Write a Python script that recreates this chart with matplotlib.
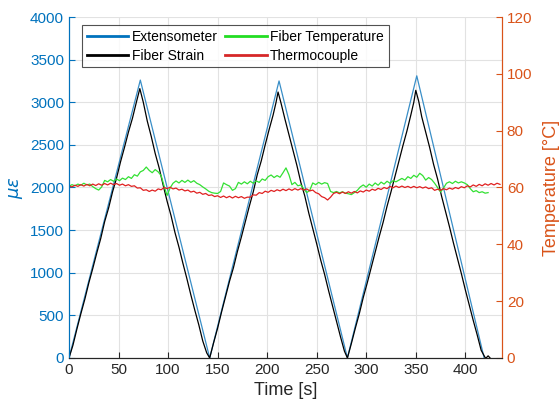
import numpy as np
import matplotlib
matplotlib.use('Agg')
import matplotlib.pyplot as plt
from matplotlib.lines import Line2D

plt.rcParams['font.family'] = ['Liberation Sans', 'DejaVu Sans']

### data
# extensometer (vertices of the triangular load cycles)
ext_t = [0, 72, 142, 212, 281, 351, 419]
ext_v = [0, 3260, 0, 3250, 0, 3310, 0]

# fiber strain
fs_t = [0, 4, 8, 12, 16, 20, 24, 28, 32, 36, 40, 44, 48, 52, 56, 60, 64, 68, 71.5,
        75, 79, 83, 87, 91, 95, 99, 103, 107, 111, 115, 119, 123, 127, 131, 135, 139, 142,
        146, 150, 154, 158, 162, 166, 170, 174, 178, 182, 186, 190, 194, 198, 202, 206, 209, 211,
        214, 218, 222, 226, 230, 234, 238, 242, 246, 250, 254, 258, 262, 266, 270, 274, 278, 281,
        285, 289, 293, 297, 301, 305, 309, 313, 317, 321, 325, 329, 333, 337, 341, 345, 348, 350,
        353, 356, 360, 364, 368, 372, 376, 380, 384, 388, 392, 396, 400, 404, 408, 412, 416, 420,
        421, 423, 425]
fs_v = [0, 150, 340, 520, 690, 880, 1050, 1230, 1400, 1600, 1760, 1950, 2110, 2300, 2470, 2650, 2810, 3000, 3160,
        3000, 2780, 2600, 2400, 2230, 2030, 1840, 1670, 1470, 1300, 1110, 930, 740, 560, 390, 200, 60, 0,
        180, 350, 540, 720, 900, 1060, 1250, 1420, 1600, 1780, 1950, 2150, 2310, 2500, 2680, 2850, 3000, 3120,
        2990, 2800, 2620, 2440, 2260, 2060, 1900, 1700, 1520, 1340, 1150, 980, 790, 610, 430, 250, 80, 0,
        170, 350, 520, 710, 880, 1060, 1240, 1420, 1590, 1780, 1950, 2130, 2310, 2490, 2660, 2850, 3000, 3140,
        3010, 2830, 2650, 2470, 2270, 2100, 1900, 1720, 1540, 1350, 1170, 990, 800, 620, 440, 270, 90, 5,
        0, 25, 0]

# fiber temperature, sampled every 3 s
ft_v = [60.4, 61.0, 60.6, 61.2, 60.8, 61.5, 60.9, 61.2, 60.3, 59.6, 59.1, 60.2, 62.5, 62.0, 62.8, 62.2,
        63.0, 62.4, 63.3, 62.8, 63.8, 63.2, 64.5, 64.0, 65.5, 66.0, 67.2, 66.0, 65.2, 66.3, 65.5, 64.2,
        60.5, 57.2, 59.8, 61.5, 62.3, 61.6, 62.5, 61.8, 62.6, 61.8, 62.4, 61.5, 61.0, 60.2, 59.5, 58.7,
        58.2, 58.0, 57.9, 58.6, 61.6, 61.0, 60.5, 59.0, 59.6, 61.8, 61.2, 62.0, 61.3, 62.2, 61.5, 62.3,
        61.8, 63.0, 62.5, 63.8, 64.4, 63.5, 64.2, 63.6, 65.2, 66.9, 64.5, 61.0, 61.8, 60.6, 60.9, 59.5,
        58.2, 59.0, 61.6, 61.0, 61.8, 61.2, 61.7, 61.4, 58.6, 58.2, 58.6, 58.1, 58.5, 58.0, 57.8, 57.5,
        58.2, 59.0, 60.2, 60.9, 60.1, 61.2, 60.5, 61.6, 60.8, 61.9, 61.2, 62.2, 61.5, 62.4, 62.0, 62.6,
        63.2, 62.6, 63.8, 63.2, 64.3, 63.6, 65.0, 64.2, 62.6, 63.5, 62.8, 61.5, 60.0, 58.4, 59.8, 61.5,
        62.0, 61.4, 62.2, 61.6, 62.0, 61.6, 61.0, 59.6, 58.5, 58.9, 58.2, 58.5, 58.0, 58.2]

# thermocouple, sampled every 3 s
tc_v = [60.6, 60.2, 60.8, 60.4, 61.0, 60.5, 61.1, 60.6, 61.2, 60.7, 61.3, 60.8, 61.4, 60.9, 61.5, 61.0,
        61.4, 60.8, 61.2, 60.6, 61.0, 60.4, 60.6, 59.8, 59.9, 59.0, 59.2, 58.6, 59.1, 58.7, 59.5, 59.2,
        60.0, 59.6, 60.1, 59.5, 59.8, 59.1, 59.4, 58.8, 59.1, 58.4, 58.7, 58.0, 58.3, 57.6, 57.9, 57.2,
        57.4, 56.8, 57.1, 56.5, 57.0, 56.4, 56.9, 56.3, 56.9, 56.4, 56.8, 56.2, 56.6, 56.6, 57.4, 57.3,
        58.2, 57.9, 58.7, 58.3, 59.0, 58.6, 59.2, 58.8, 59.4, 58.9, 59.5, 59.0, 59.6, 59.1, 59.6, 59.1,
        59.5, 58.8, 59.1, 58.2, 57.8, 56.8, 56.4, 55.6, 56.6, 57.9, 58.3, 57.8, 58.4, 57.9, 58.5, 58.0,
        58.6, 58.1, 58.8, 58.4, 59.1, 58.7, 59.4, 59.0, 59.7, 59.3, 60.0, 59.6, 60.4, 59.9, 60.5, 60.0,
        60.5, 60.0, 60.4, 59.9, 60.4, 59.9, 60.3, 59.8, 60.2, 59.6, 59.9, 59.0, 59.4, 59.0, 59.6, 59.2,
        59.8, 59.4, 60.0, 59.6, 60.3, 59.9, 60.6, 60.2, 60.9, 60.4, 61.1, 60.6, 61.3, 60.8, 61.4, 60.9,
        61.5, 61.1]

ft_t = np.arange(len(ft_v)) * 3
tc_t = np.arange(len(tc_v)) * 3

c_blue = '#0072BD'
c_orange = '#D95319'

### plot
fig = plt.figure(figsize=(5.59, 4.11), dpi=100)
ax = fig.add_axes([0.1234, 0.129, 0.7746, 0.8296])
ax2 = ax.twinx()

ax.plot(ext_t, ext_v, color='#3a8fc8', lw=0.9)
ax.plot(fs_t, fs_v, color='black', lw=0.9)
ax2.plot(ft_t, ft_v, color='#33e033', lw=0.9)
ax2.plot(tc_t, tc_v, color='#e02020', lw=0.9)

ax.set_xlim(0, 437)
ax.set_ylim(0, 4000)
ax2.set_ylim(0, 120)
ax.set_xticks(range(0, 401, 50))
ax.set_yticks(range(0, 4001, 500))
ax2.set_yticks(range(0, 121, 20))

ax.grid(True, color='#e2e2e2', lw=0.8)
ax.set_axisbelow(True)

ax.tick_params(axis='both', direction='in', labelsize=11, length=4)
ax.tick_params(axis='x', colors='#262626')
ax.tick_params(axis='y', colors=c_blue)
ax2.tick_params(axis='y', direction='in', colors=c_orange, labelsize=11, length=4)

for a in (ax, ax2):
    a.spines['top'].set_visible(False)
    a.spines['left'].set_color(c_blue)
    a.spines['right'].set_color(c_orange)
    a.spines['bottom'].set_color('#262626')

ax.set_xlabel('Time [s]', fontsize=13, color='#262626')
ax.set_ylabel(r'$\mu\epsilon$', fontsize=13, color=c_blue, labelpad=4)
ax2.set_ylabel('Temperature [°C]', fontsize=13, color=c_orange, labelpad=8)

handles = [Line2D([], [], color=c_blue, lw=2),
           Line2D([], [], color='black', lw=2),
           Line2D([], [], color='#22dd22', lw=2),
           Line2D([], [], color='#d62728', lw=2)]
labels = ['Extensometer', 'Fiber Strain', 'Fiber Temperature', 'Thermocouple']
leg = ax2.legend(handles, labels, ncol=2, loc='upper left', bbox_to_anchor=(0.03, 0.977),
                 fontsize=10, frameon=True, fancybox=False, edgecolor='#262626',
                 handlelength=3.0, handletextpad=0.25, columnspacing=0.5,
                 borderpad=0.35, labelspacing=0.35, borderaxespad=0)
leg.get_frame().set_linewidth(0.8)

plt.savefig('out.png', dpi=100)
